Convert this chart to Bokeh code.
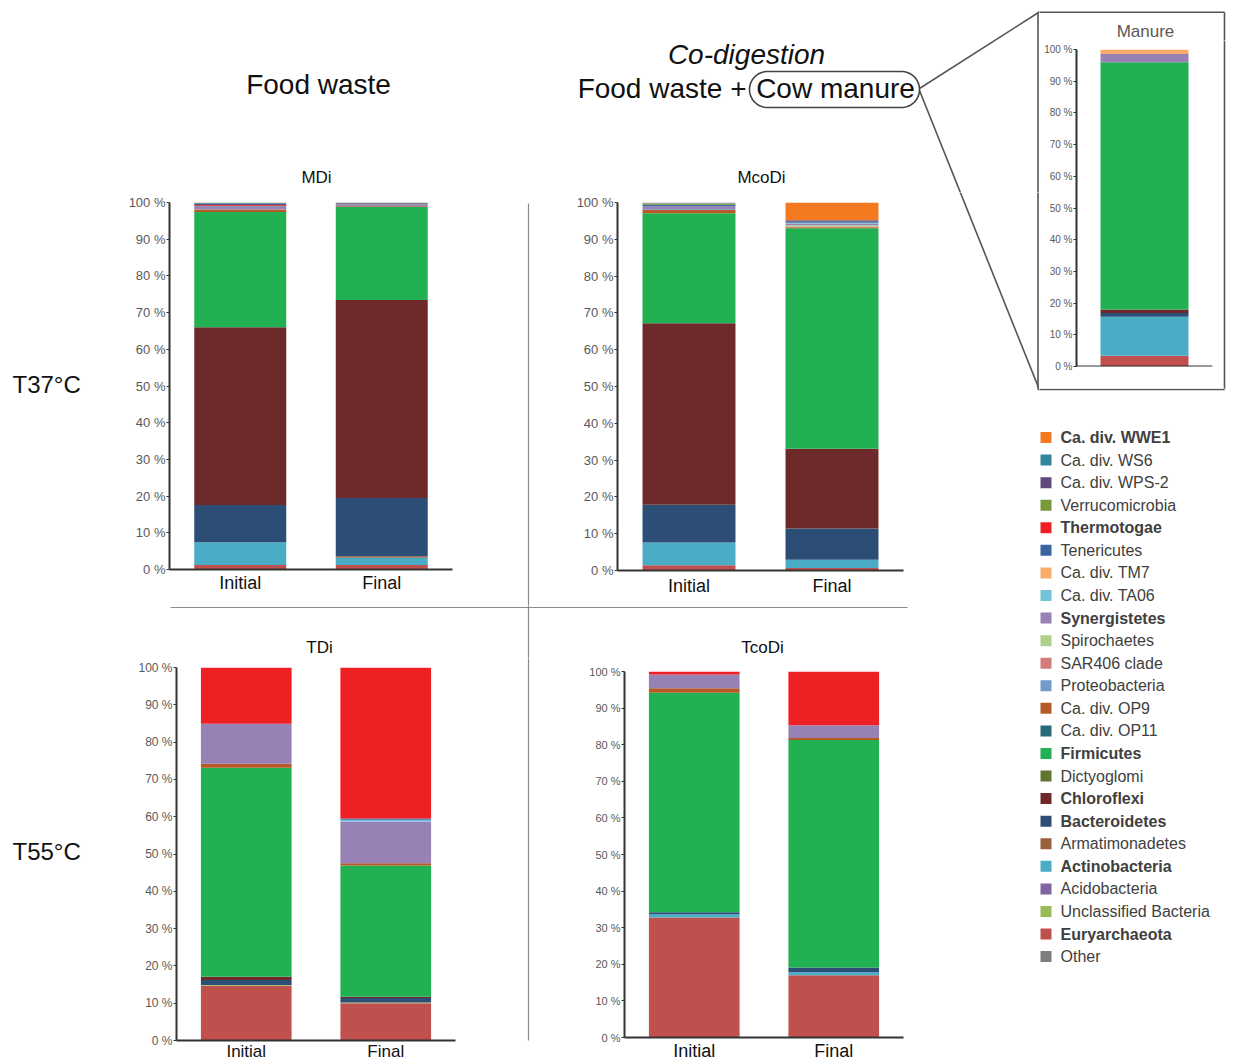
import numpy as np
from bokeh.plotting import figure
from bokeh.layouts import row, column
from bokeh.models import (Range1d, FactorRange, FixedTicker, ColumnDataSource,
                          Span, Spacer, PrintfTickFormatter)
from bokeh.core.properties import value
from bokeh.embed import file_html
from bokeh.resources import INLINE

FONT = "Liberation Sans"

# Phyla in stacking order (bottom of each bar first)
taxa = [
    "Euryarchaeota", "Unclassified Bacteria", "Acidobacteria", "Actinobacteria",
    "Armatimonadetes", "Bacteroidetes", "Chloroflexi", "Dictyoglomi", "Firmicutes",
    "Ca. div. OP11", "Ca. div. OP9", "Proteobacteria", "SAR406 clade", "Spirochaetes",
    "Synergistetes", "Ca. div. TA06", "Ca. div. TM7", "Tenericutes", "Thermotogae",
    "Verrucomicrobia", "Ca. div. WPS-2", "Ca. div. WS6", "Ca. div. WWE1", "Other",
]
colors = [
    "#C0504D", "#9BBB59", "#8064A2", "#4BACC6",
    "#9A5F3C", "#2C4D75", "#6E2A2A", "#5F7530", "#21B052",
    "#276A7C", "#B65A28", "#729ACF", "#D17B7A", "#AFD08A",
    "#9882B5", "#73C3D8", "#F9AB6B", "#3A64A0", "#ED2024",
    "#789A3C", "#604A7B", "#31859C", "#F47920", "#7F7F7F",
]
bold_taxa = ["Ca. div. WWE1", "Thermotogae", "Synergistetes", "Firmicutes",
             "Chloroflexi", "Bacteroidetes", "Actinobacteria", "Euryarchaeota"]
legend_order = taxa[-2::-1] + ["Other"]

samples = ["Initial", "Final"]

# Relative abundance (%) per sample
mdi_initial = {"Euryarchaeota": 1.2, "Actinobacteria": 6.2, "Bacteroidetes": 10.2,
               "Chloroflexi": 48.4, "Firmicutes": 31.4, "Ca. div. OP9": 0.7,
               "Synergistetes": 0.8, "Tenericutes": 0.2, "Thermotogae": 0.2,
               "Ca. div. WPS-2": 0.3, "Ca. div. WS6": 0.2, "Other": 0.2}
mdi_final = {"Euryarchaeota": 1.2, "Actinobacteria": 2.0, "Armatimonadetes": 0.4,
             "Bacteroidetes": 15.9, "Chloroflexi": 53.9, "Firmicutes": 25.4,
             "Ca. div. OP9": 0.2, "Synergistetes": 0.5, "Other": 0.5}
mcodi_initial = {"Euryarchaeota": 1.4, "Actinobacteria": 6.2, "Bacteroidetes": 10.3,
                 "Chloroflexi": 49.3, "Firmicutes": 29.9, "Ca. div. OP9": 0.9,
                 "Proteobacteria": 0.2, "Synergistetes": 0.8, "Tenericutes": 0.4,
                 "Verrucomicrobia": 0.3, "Other": 0.3}
mcodi_final = {"Euryarchaeota": 0.7, "Actinobacteria": 2.2, "Bacteroidetes": 8.5,
               "Chloroflexi": 21.7, "Firmicutes": 59.9, "Ca. div. OP9": 0.3,
               "SAR406 clade": 0.2, "Spirochaetes": 0.3, "Synergistetes": 0.5,
               "Ca. div. TA06": 0.2, "Tenericutes": 0.4, "Ca. div. WPS-2": 0.3,
               "Ca. div. WWE1": 4.8}
tdi_initial = {"Euryarchaeota": 14.7, "Unclassified Bacteria": 0.2, "Bacteroidetes": 1.3,
               "Chloroflexi": 0.9, "Firmicutes": 56.0, "Ca. div. OP9": 1.1,
               "Synergistetes": 10.7, "Thermotogae": 15.1}
tdi_final = {"Euryarchaeota": 10.0, "Unclassified Bacteria": 0.2, "Bacteroidetes": 1.2,
             "Chloroflexi": 0.3, "Firmicutes": 35.2, "Ca. div. OP9": 0.6,
             "Synergistetes": 11.2, "Ca. div. TA06": 0.5, "Tenericutes": 0.3,
             "Thermotogae": 40.5}
tcodi_initial = {"Euryarchaeota": 32.8, "Actinobacteria": 0.9, "Bacteroidetes": 0.5,
                 "Firmicutes": 60.0, "Ca. div. OP9": 1.2, "Synergistetes": 3.8,
                 "Thermotogae": 0.8}
tcodi_final = {"Euryarchaeota": 17.0, "Actinobacteria": 0.8, "Bacteroidetes": 1.3,
               "Firmicutes": 62.2, "Ca. div. OP9": 0.5, "Synergistetes": 3.5,
               "Thermotogae": 14.7}
manure = {"Euryarchaeota": 3.4, "Actinobacteria": 12.3, "Bacteroidetes": 1.2,
          "Chloroflexi": 1.1, "Firmicutes": 78.0, "Synergistetes": 2.6,
          "Ca. div. TM7": 1.4}

pct_ticks = list(range(0, 101, 10))

LINE = "#555555"
# Guide lines on the page: (x0, y0, x1, y1, color, width) in page pixels
guides = [
    (919, 88, 1038, 12, LINE, 1.6),          # zoom connector, upper
    (919, 90, 1038, 387, LINE, 1.6),         # zoom connector, lower
    (1037.5, 11.7, 1224, 11.7, LINE, 1.6),   # inset frame
    (1224, 11.7, 1224, 389, LINE, 1.6),
    (1224, 389, 1037.5, 389, LINE, 1.6),
    (1037.5, 389, 1037.5, 11.7, LINE, 1.6),
    (170, 607, 907, 607, "#8c8c8c", 1.2),    # row separator
    (528, 203, 528, 1040, "#8c8c8c", 1.2),   # column separator
]


def canvas(x0, y0, w, h):
    """Axis-free drawing area whose data units are page pixels (y downward)."""
    p = figure(width=w, height=h, x_range=Range1d(x0, x0 + w),
               y_range=Range1d(y0 + h, y0), x_axis_location=None,
               y_axis_location=None, toolbar_location=None,
               output_backend="svg", min_border=0, outline_line_color=None,
               frame_align=False)
    p.grid.visible = False
    xs0, ys0, xs1, ys1, cs, ws = zip(*guides)
    p.segment(x0=list(xs0), y0=list(ys0), x1=list(xs1), y1=list(ys1),
              line_color=list(cs), line_width=list(ws))
    return p


def label(p, x, y, txt, size, align="center", color="#111111", style="normal"):
    p.text(x=[x], y=[y], text=[txt], text_font=value(FONT), text_font_size=size,
           text_align=align, text_baseline="middle", text_color=color,
           text_font_style=style)


def style_yaxis(p, tick_size):
    ax = p.yaxis[0]
    ax.ticker = FixedTicker(ticks=pct_ticks)
    ax.formatter = PrintfTickFormatter(format="%d %%")
    ax.major_label_text_font = FONT
    ax.major_label_text_font_size = tick_size
    ax.major_label_text_color = "#595959"
    ax.major_tick_in = 0
    ax.major_tick_out = 3
    ax.major_tick_line_color = "#333333"
    ax.minor_tick_line_color = None
    ax.major_label_standoff = 1
    ax.axis_line_width = 2
    ax.axis_line_color = "#333333"


def panel(initial, final, w, h, borders, tick_size, cat_size, cat_standoff):
    data = {"sample": samples}
    for t in taxa:
        data[t] = [initial.get(t, 0.0), final.get(t, 0.0)]
    src = ColumnDataSource(data)
    left, right, top, bottom = borders
    p = figure(width=w, height=h, x_range=FactorRange(*samples),
               y_range=Range1d(0, 100), toolbar_location=None,
               output_backend="svg", min_border_left=left, min_border_right=right,
               min_border_top=top, min_border_bottom=bottom,
               outline_line_color=None, frame_align=False)
    p.vbar_stack(taxa, x="sample", width=0.65, fill_color=colors,
                 line_color=None, source=src)
    p.grid.visible = False
    style_yaxis(p, tick_size)
    xa = p.xaxis[0]
    xa.major_tick_line_color = None
    xa.major_tick_in = 0
    xa.major_tick_out = 0
    xa.axis_line_width = 2
    xa.axis_line_color = "#333333"
    xa.major_label_text_font = FONT
    xa.major_label_text_font_size = cat_size
    xa.major_label_text_color = "#111111"
    xa.major_label_standoff = cat_standoff
    return p


# ---- left block: headers, four digester panels ----
hdr = canvas(0, 0, 1039, 192)
label(hdr, 318, 84, "Food waste", "28px")
label(hdr, 746, 54, "Co-digestion", "28px", style="italic")
label(hdr, 746, 88, "Food waste +", "28px", align="right")
label(hdr, 835, 88, "Cow manure", "28px")
r, cx0, cx1, cy = 18, 767, 901, 89
tl = np.linspace(np.pi / 2, 3 * np.pi / 2, 40)
tr = np.linspace(-np.pi / 2, np.pi / 2, 40)
sx = np.concatenate([cx0 + r * np.cos(tl), cx1 + r * np.cos(tr), [cx0]])
sy = np.concatenate([cy + r * np.sin(tl), cy + r * np.sin(tr), [cy + r]])
hdr.line(sx, sy, line_color="#444444", line_width=1.6)
label(hdr, 316, 177, "MDi", "17px")
label(hdr, 761, 177, "McoDi", "17px")

lab1 = canvas(0, 192, 120, 413)
label(lab1, 12, 384, "T37°C", "24px", align="left")
p_mdi = panel(mdi_initial, mdi_final, 370, 413, (49, 38, 10, 36), "13px", "18px", 3)
mid1 = canvas(490, 192, 75, 413)
p_mcodi = panel(mcodi_initial, mcodi_final, 350, 413, (52, 12, 10, 35), "13px", "18px", 5)
right1 = canvas(915, 192, 124, 413)

mid_strip = canvas(0, 605, 1039, 53)
label(mid_strip, 319, 647, "TDi", "17px")
label(mid_strip, 762, 647, "TcoDi", "17px")

lab2 = canvas(0, 658, 120, 405)
label(lab2, 12, 851, "T55°C", "24px", align="left")
p_tdi = panel(tdi_initial, tdi_final, 370, 405, (56, 35, 9, 21), "12px", "17px", 1)
mid2 = canvas(490, 658, 75, 405)
p_tcodi = panel(tcodi_initial, tcodi_final, 350, 405, (59, 12, 13, 26), "11px", "18px", 3)

left_col = column(
    hdr,
    row(lab1, p_mdi, mid1, p_mcodi, right1),
    mid_strip,
    row(lab2, p_tdi, mid2, p_tcodi, Spacer(width=124, height=405)),
)

# ---- right block: manure inset and legend ----
r_top = canvas(1039, 0, 194, 40)
label(r_top, 1145, 31, "Manure", "17px", color="#595959")

msrc = ColumnDataSource({"sample": ["Manure"],
                         **{t: [manure.get(t, 0.0)] for t in taxa}})
p_man = figure(width=183, height=348, x_range=FactorRange("Manure"),
               y_range=Range1d(0, 100), toolbar_location=None,
               output_backend="svg", x_axis_location=None,
               min_border_left=37, min_border_right=10, min_border_top=9,
               min_border_bottom=22, outline_line_color=None, frame_align=False)
p_man.vbar_stack(taxa, x="sample", width=0.647, fill_color=colors,
                 line_color=None, source=msrc)
p_man.grid.visible = False
style_yaxis(p_man, "10px")
p_man.add_layout(Span(location=0, dimension="width", line_color="#333333",
                      line_width=2))
r_edge = canvas(1222, 40, 11, 348)

r_bottom = canvas(1039, 388, 194, 675)
ly = [437 + i * 22.57 for i in range(len(legend_order))]
lsrc = ColumnDataSource({
    "y": ly,
    "label": legend_order,
    "color": [colors[taxa.index(t)] for t in legend_order],
    "style": ["bold" if t in bold_taxa else "normal" for t in legend_order],
})
r_bottom.rect(x=1045.5, y="y", width=11, height=11, fill_color="color",
              line_color=None, source=lsrc)
r_bottom.text(x=1060, y="y", text="label", text_font=value(FONT),
              text_font_size="16px", text_font_style="style",
              text_color="#404040", text_baseline="middle", source=lsrc)

right_col = column(r_top, row(p_man, r_edge), r_bottom)

layout = row(left_col, right_col)

with open("out.html", "w") as f:
    f.write(file_html(layout, INLINE, title="Microbial community composition"))
